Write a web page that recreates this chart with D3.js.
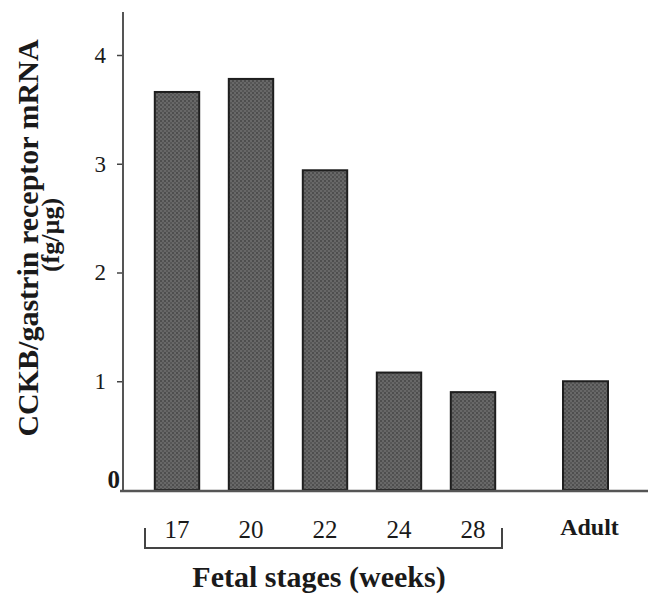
<!DOCTYPE html>
<html>
<head>
<meta charset="utf-8">
<script src="https://cdn.jsdelivr.net/npm/d3@7"></script>
<style>
  body { margin: 0; background: #fff; }
  svg text { font-family: "Liberation Serif", "DejaVu Serif", serif; fill: #1a1a1a; }
</style>
</head>
<body>
<svg id="chart" width="651" height="597"></svg>
<script>
// data
var fetalWeeks = ['17', '20', '22', '24', '28'];
var fetalValues = [3.66, 3.78, 2.94, 1.08, 0.90];
var adultLabels = ['Adult'];
var adultValues = [1.0];
var yTicks = [0, 1, 2, 3, 4];

var svg = d3.select('#chart');

// scales
var y = d3.scaleLinear().domain([0, 4]).range([490, 55]);

var xFetal = d3.scaleBand()
  .domain(fetalWeeks)
  .range([140, 510])
  .paddingInner(0.4)
  .paddingOuter(0.2);

var xAdult = d3.scaleBand()
  .domain(adultLabels)
  .range([548, 623])
  .paddingInner(0.4)
  .paddingOuter(0.2);

// stipple pattern for the bars
var defs = svg.append('defs');
var pat = defs.append('pattern')
  .attr('id', 'stipple')
  .attr('width', 4)
  .attr('height', 4)
  .attr('patternUnits', 'userSpaceOnUse');
pat.append('rect').attr('width', 4).attr('height', 4).attr('fill', '#686868');
pat.append('rect').attr('x', 0).attr('y', 0).attr('width', 2).attr('height', 2).attr('fill', '#4e4e4e');
pat.append('rect').attr('x', 2).attr('y', 2).attr('width', 2).attr('height', 2).attr('fill', '#565656');

// bars
svg.append('g')
  .selectAll('rect')
  .data(fetalWeeks.map(function(d, i){ return { key: d, value: fetalValues[i] }; }))
  .enter().append('rect')
    .attr('x', function(d){ return xFetal(d.key); })
    .attr('y', function(d){ return y(d.value); })
    .attr('width', xFetal.bandwidth())
    .attr('height', function(d){ return y(0) - y(d.value); })
    .attr('fill', 'url(#stipple)')
    .attr('stroke', '#1e1e1e')
    .attr('stroke-width', 2);

svg.append('g')
  .selectAll('rect')
  .data(adultLabels.map(function(d, i){ return { key: d, value: adultValues[i] }; }))
  .enter().append('rect')
    .attr('x', function(d){ return xAdult(d.key); })
    .attr('y', function(d){ return y(d.value); })
    .attr('width', xAdult.bandwidth())
    .attr('height', function(d){ return y(0) - y(d.value); })
    .attr('fill', 'url(#stipple)')
    .attr('stroke', '#1e1e1e')
    .attr('stroke-width', 2);

// y axis
var yAxis = svg.append('g')
  .attr('transform', 'translate(123,0)')
  .call(d3.axisLeft(y).tickValues(yTicks).tickFormat(d3.format('d')).tickSize(6).tickPadding(11));

yAxis.select('.domain').remove();
yAxis.selectAll('.tick line').attr('stroke', '#444').attr('stroke-width', 1.5);
yAxis.selectAll('.tick text')
  .attr('font-size', 23)
  .attr('font-family', '"Liberation Serif", serif')
  .attr('fill', '#222');

// the zero sits in the corner, bold
yAxis.selectAll('.tick')
  .filter(function(d){ return d === 0; })
  .each(function(){
    var t = d3.select(this);
    t.select('line').remove();
    t.select('text')
      .attr('x', -3)
      .attr('dy', '-0.1em')
      .attr('font-weight', 'bold')
      .attr('font-size', 25);
  });

// axis lines
svg.append('line')
  .attr('x1', 123).attr('x2', 123)
  .attr('y1', 12).attr('y2', y(0) + 1)
  .attr('stroke', '#555').attr('stroke-width', 2);

svg.append('line')
  .attr('x1', 120).attr('x2', 648)
  .attr('y1', y(0) + 1).attr('y2', y(0) + 1)
  .attr('stroke', '#555').attr('stroke-width', 2.5);

// x labels
var xAxisF = svg.append('g')
  .attr('transform', 'translate(0,538)')
  .call(d3.axisBottom(xFetal).tickSize(0).tickPadding(0));
xAxisF.select('.domain').remove();
xAxisF.selectAll('.tick text')
  .attr('dy', 0)
  .attr('font-size', 25)
  .attr('font-family', '"Liberation Serif", serif')
  .attr('fill', '#222');

var xAxisA = svg.append('g')
  .attr('transform', 'translate(4,535)')
  .call(d3.axisBottom(xAdult).tickSize(0).tickPadding(0));
xAxisA.select('.domain').remove();
xAxisA.selectAll('.tick text')
  .attr('dy', 0)
  .attr('font-size', 24)
  .attr('font-weight', 'bold')
  .attr('font-family', '"Liberation Serif", serif')
  .attr('fill', '#222');

// bracket under the fetal stages
svg.append('path')
  .attr('d', 'M145,528 V548 H502 V528')
  .attr('fill', 'none')
  .attr('stroke', '#444')
  .attr('stroke-width', 2);

svg.append('text')
  .attr('x', 319)
  .attr('y', 587)
  .attr('text-anchor', 'middle')
  .attr('font-size', 30)
  .attr('font-weight', 'bold')
  .text('Fetal stages (weeks)');

// y title
svg.append('text')
  .attr('transform', 'translate(38,238) rotate(-90)')
  .attr('text-anchor', 'middle')
  .attr('font-size', 30)
  .attr('font-weight', 'bold')
  .text('CCKB/gastrin receptor mRNA');

svg.append('text')
  .attr('transform', 'translate(59,235) rotate(-90)')
  .attr('text-anchor', 'middle')
  .attr('font-size', 26)
  .attr('font-weight', 'bold')
  .text('(fg/µg)');
</script>
</body>
</html>
